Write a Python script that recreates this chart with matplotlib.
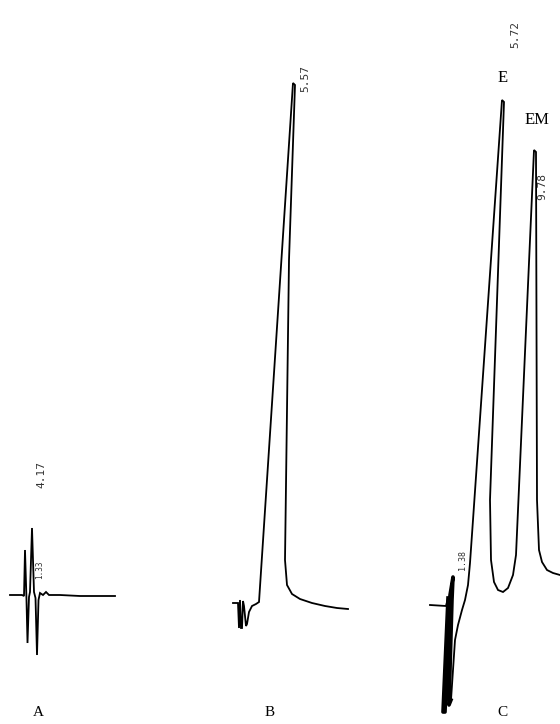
import matplotlib
matplotlib.use("Agg")
import matplotlib.pyplot as plt

# chart-paper position (x) and detector response (y)
a_x = [10, 22, 24, 25, 26.5, 27.5, 29, 30, 32, 34, 35.5, 37, 38.5, 40, 43, 46, 49, 60, 80, 100, 115]
a_y = [129, 129, 128, 174, 124, 81, 127, 132, 196, 132, 126, 69, 124, 131, 129, 132, 129, 129, 128, 128, 128]

b_x = [233, 238, 239, 240, 241, 242, 243, 244, 246, 247, 249, 252, 256, 259, 293, 295, 289, 285, 287, 292,
       300, 312, 325, 337, 348]
b_y = [121, 121, 96, 124, 96, 96, 123, 118, 98, 100, 112, 118, 120, 122, 641, 639, 464, 164, 139, 130,
       125, 121, 118, 116, 115]

c_x = [430, 446, 448, 443, 445, 450, 453, 452, 449, 451, 455, 458, 462, 465, 468, 470, 473, 502, 504, 490,
       491, 494, 498, 503, 508, 513, 516, 518, 534, 536, 537, 539, 542, 547, 553, 560]
c_y = [119, 118, 126, 12, 12, 129, 147, 124, 19, 24, 84, 99, 114, 124, 139, 161, 204, 624, 622, 224,
       164, 142, 134, 132, 136, 149, 169, 214, 574, 572, 224, 174, 162, 154, 151, 149]

# retention time labels printed by the integrator
rt_labels = ["4.17", "1.33", "5.57", "5.72", "1.38", "9.78"]
rt_pos = [(41, 249), (40, 154), (305, 646), (515, 689), (463, 164), (542, 537)]
rt_size = [8, 5.5, 8, 8, 6, 8]

panel_names = ["A", "B", "C"]
panel_pos = [38, 270, 502]

fig = plt.figure(figsize=(5.6, 7.24), dpi=100)
ax = fig.add_axes([0, 0, 1, 1])

for xs, ys in [(a_x, a_y), (b_x, b_y), (c_x, c_y)]:
    ax.plot(xs, ys, color="black", lw=1.3, solid_joinstyle="miter")

# injection spike on C is inked much heavier
ax.plot(c_x[2:10], c_y[2:10], color="black", lw=2.6)

for txt, (x, y), fs in zip(rt_labels, rt_pos, rt_size):
    ax.text(x, y, txt, rotation=90, fontsize=fs, family="DejaVu Sans Mono",
            color="#333333", ha="center", va="center")

for name, x in zip(panel_names, panel_pos):
    ax.text(x, 12, name, fontsize=11, family="Liberation Serif", ha="center", va="center")

ax.text(503, 646, "E", fontsize=12, family="Liberation Serif", ha="center", va="center")
ax.text(537, 604, "EM", fontsize=12, family="Liberation Serif", ha="center", va="center")

ax.set_xlim(0, 560)
ax.set_ylim(0, 724)
ax.axis("off")

fig.savefig("out.png", dpi=100)
